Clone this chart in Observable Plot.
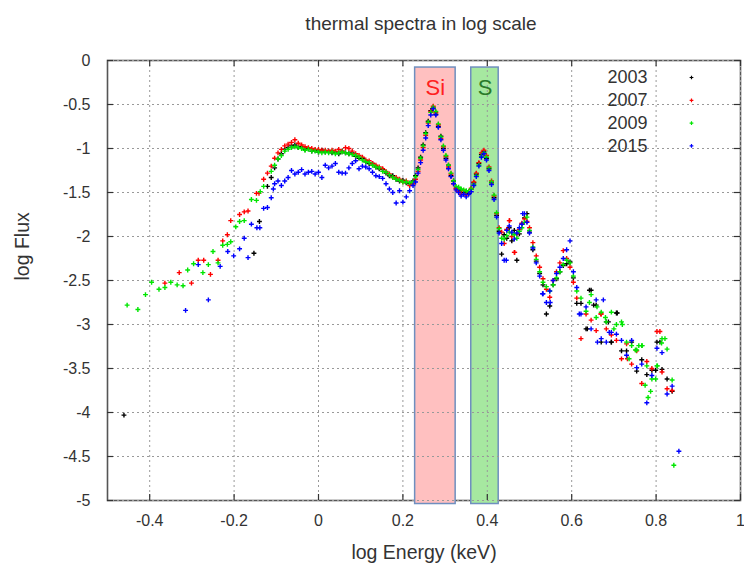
<!DOCTYPE html>
<html><head><meta charset="utf-8">
<script src="https://cdn.jsdelivr.net/npm/d3@7"></script>
<script src="https://cdn.jsdelivr.net/npm/@observablehq/plot@0.6"></script>
<style>
body{margin:0;background:#fff;font-family:"Liberation Sans",Arial,sans-serif;overflow:hidden;}
#title{height:40px;box-sizing:border-box;padding-top:14px;padding-left:98px;width:744px;text-align:center;font-size:19px;line-height:20px;color:#333;}
#chart svg{display:block}
</style></head><body>
<div id="title">thermal spectra in log scale</div>
<div id="chart"></div>
<script>
const years = ["2003", "2007", "2009", "2015"];
const colors = ["#000000", "#ff0000", "#00e600", "#0000ff"];
const xTicks = [-0.4, -0.2, 0, 0.2, 0.4, 0.6, 0.8, 1];
const yTicks = [0, -0.5, -1, -1.5, -2, -2.5, -3, -3.5, -4, -4.5, -5];
const bandNames = ["Si", "S"];
const bandLo = [0.229, 0.362];
const bandHi = [0.325, 0.427];
const bandTop = -0.08;
const bandBottom = -5.04;
const bandFill = ["#ffc0c0", "#a6e8a0"];
const bandText = ["#ff2020", "#2a7a2a"];

// shared energy bins (log keV)
const logE = [
 -0.104,-0.096,-0.088,-0.080,-0.072,-0.064,-0.056,-0.048,-0.040,-0.032,-0.024,-0.016,-0.008,0.000,0.008,0.016,0.024,0.032,0.040,0.048,0.056,0.064,0.072,0.080,0.088,0.096,0.104,0.112,0.120,0.128,0.136,0.144,0.152,0.160,0.168,0.176,0.184,0.192,0.200,0.208,0.216,0.224,
 0.230,0.236,0.242,0.248,0.254,0.260,0.266,0.272,0.278,0.284,0.290,0.296,0.302,0.308,0.314,0.320,0.326,
 0.332,0.338,0.344,0.350,0.356,0.362,0.368,0.374,0.380,0.386,0.392,0.398,0.404,0.410,0.416,0.422,0.428,
 0.434,0.440,0.446,0.452,0.458,0.464,0.470,0.476,0.482,0.488,0.494,0.500,0.508,0.516,0.524,0.532,0.540,0.548,0.556,0.564,0.572,0.580,0.588,0.596,0.604,0.612,
 0.622,0.634,0.646,0.658,0.670,0.682,0.694,0.706,0.718,0.730,0.742,0.754,0.766,0.778,0.790,0.802,0.814,0.826,0.838
];
const flux2003 = [
 -1.22,-1.12,-1.06,-1.01,-0.99,-0.97,-0.96,-0.99,-0.98,-1.01,-1.00,-1.03,-1.02,-1.04,-1.02,-1.04,-1.03,-1.05,-1.04,-1.06,-1.03,-1.05,-1.06,-1.05,-1.09,-1.11,-1.11,-1.15,-1.17,-1.17,-1.21,-1.23,-1.24,-1.28,-1.31,-1.31,-1.35,-1.37,-1.36,-1.39,-1.40,-1.37,
 -1.31,-1.22,-1.10,-0.96,-0.82,-0.69,-0.57,-0.54,-0.61,-0.75,-0.86,-1.00,-1.11,-1.19,-1.31,-1.37,-1.45,
 -1.47,-1.47,-1.50,-1.49,-1.51,-1.46,-1.39,-1.29,-1.17,-1.07,-1.04,-1.11,-1.23,-1.39,-1.56,-1.76,-1.94,
 -2.20,-1.98,-2.02,-1.90,-2.05,-1.93,-2.27,-1.97,-1.86,-1.79,-1.74,-1.95,-2.15,-2.28,-2.42,-2.55,-2.88,-2.79,-2.55,-2.48,-2.40,-2.33,-2.31,-2.29,-2.47,-2.76,
 -2.76,-3.05,-2.61,-2.78,-3.20,-2.97,-3.20,-2.87,-3.30,-3.30,-3.20,-3.53,-3.40,-3.57,-3.52,-3.20,-3.51,-3.62,-3.76
];
const flux2007 = [
 -1.11,-1.05,-1.01,-0.97,-0.95,-0.93,-0.90,-0.94,-0.96,-0.98,-0.99,-1.00,-1.01,-1.01,-1.02,-1.02,-1.03,-1.02,-1.03,-1.01,-1.03,-0.99,-1.00,-1.03,-1.06,-1.08,-1.10,-1.13,-1.14,-1.17,-1.19,-1.21,-1.23,-1.26,-1.29,-1.33,-1.33,-1.35,-1.38,-1.37,-1.42,-1.40,
 -1.35,-1.26,-1.13,-0.99,-0.85,-0.71,-0.58,-0.52,-0.59,-0.73,-0.89,-0.98,-1.09,-1.21,-1.29,-1.40,-1.46,
 -1.49,-1.52,-1.48,-1.53,-1.49,-1.45,-1.38,-1.28,-1.16,-1.05,-1.02,-1.08,-1.21,-1.37,-1.54,-1.74,-1.90,
 -1.95,-2.08,-1.92,-1.82,-2.00,-2.18,-1.97,-1.92,-1.85,-1.80,-1.83,-1.90,-2.07,-2.22,-2.35,-2.48,-2.60,-2.69,-2.50,-2.40,-2.30,-2.16,-2.25,-2.35,-2.52,-2.70,
 -3.16,-2.88,-2.95,-3.07,-2.88,-3.05,-3.12,-3.18,-3.39,-3.22,-3.45,-3.30,-3.67,-3.42,-3.50,-3.08,-3.54,-3.73,-3.75
];
const flux2009 = [
 -1.19,-1.12,-1.08,-1.03,-1.01,-0.99,-0.98,-0.99,-1.00,-1.02,-1.01,-1.03,-1.03,-1.04,-1.05,-1.04,-1.05,-1.04,-1.06,-1.05,-1.04,-1.05,-1.06,-1.07,-1.08,-1.10,-1.13,-1.15,-1.16,-1.19,-1.21,-1.22,-1.26,-1.27,-1.30,-1.33,-1.35,-1.36,-1.38,-1.38,-1.39,-1.38,
 -1.32,-1.24,-1.11,-0.97,-0.83,-0.70,-0.59,-0.53,-0.58,-0.72,-0.87,-0.97,-1.08,-1.19,-1.28,-1.37,-1.43,
 -1.44,-1.46,-1.47,-1.48,-1.49,-1.46,-1.41,-1.31,-1.19,-1.09,-1.05,-1.10,-1.22,-1.38,-1.53,-1.73,-1.91,
 -2.02,-2.03,-1.99,-1.95,-1.96,-1.98,-2.02,-1.94,-1.90,-1.84,-1.78,-1.93,-2.12,-2.26,-2.40,-2.52,-2.57,-2.62,-2.55,-2.47,-2.40,-2.32,-2.27,-2.30,-2.45,-2.62,
 -2.70,-2.85,-2.66,-2.92,-2.86,-2.97,-2.86,-3.00,-2.97,-3.20,-3.24,-3.29,-3.24,-3.47,-3.62,-3.47,-3.16,-3.28,-3.63
];
const flux2015 = [
 -1.40,-1.37,-1.42,-1.37,-1.33,-1.25,-1.29,-1.27,-1.24,-1.29,-1.27,-1.26,-1.29,-1.27,-1.33,-1.19,-1.22,-1.20,-1.17,-1.27,-1.28,-1.28,-1.22,-1.17,-1.14,-1.23,-1.20,-1.21,-1.23,-1.27,-1.31,-1.32,-1.34,-1.40,-1.46,-1.50,-1.62,-1.48,-1.61,-1.55,-1.48,-1.42,
 -1.38,-1.28,-1.16,-1.02,-0.88,-0.74,-0.62,-0.55,-0.62,-0.76,-0.90,-1.02,-1.13,-1.23,-1.32,-1.40,-1.47,
 -1.50,-1.54,-1.52,-1.55,-1.52,-1.49,-1.42,-1.32,-1.20,-1.10,-1.06,-1.13,-1.25,-1.41,-1.58,-1.78,-1.96,
 -2.08,-2.27,-1.93,-1.88,-1.95,-2.03,-1.96,-1.90,-1.86,-1.74,-1.84,-1.96,-2.13,-2.30,-2.45,-2.65,-2.75,-2.62,-2.50,-2.42,-2.35,-2.25,-2.15,-2.05,-2.40,-2.58,
 -2.88,-2.80,-3.05,-2.72,-3.16,-3.20,-3.09,-3.11,-3.18,-3.35,-3.18,-3.49,-3.45,-3.89,-3.58,-3.27,-3.32,-3.79,-3.70
];
// extra (sparse) points: [log E, log Flux]
const extra2003 = [[-0.461,-4.03],[-0.153,-2.19],[-0.140,-1.83],[-0.121,-1.43],[-0.112,-1.33],[0.642,-2.61],[0.652,-2.78],[0.708,-2.87],[0.809,-3.20],[0.687,-2.97],[0.637,-3.05],[0.694,-3.20],[0.799,-3.52]];
const extra2007 = [[-0.364,-2.53],[-0.330,-2.41],[-0.301,-2.53],[-0.285,-2.27],[-0.272,-2.27],[-0.256,-2.43],[-0.238,-2.27],[-0.227,-2.05],[-0.216,-1.98],[-0.208,-1.82],[-0.187,-1.75],[-0.176,-1.72],[-0.167,-1.71],[-0.147,-1.51],[-0.141,-1.51],[-0.130,-1.35],[-0.121,-1.28],[-0.112,-1.20],[0.809,-3.08],[0.669,-2.88],[0.732,-3.39],[0.453,-1.82],[0.465,-2.18]];
const extra2009 = [[-0.4535,-2.78],[-0.428,-2.83],[-0.410,-2.66],[-0.3955,-2.52],[-0.378,-2.60],[-0.364,-2.58],[-0.350,-2.52],[-0.335,-2.55],[-0.321,-2.56],[-0.310,-2.38],[-0.296,-2.31],[-0.274,-2.41],[-0.261,-2.32],[-0.250,-2.17],[-0.238,-2.30],[-0.227,-2.10],[-0.216,-2.09],[-0.208,-2.06],[-0.196,-1.89],[-0.187,-1.83],[-0.176,-1.82],[-0.159,-1.58],[-0.147,-1.59],[-0.138,-1.49],[-0.130,-1.43],[-0.112,-1.26],[0.642,-2.75],[0.660,-2.80],[0.680,-2.92],[0.700,-3.05],[0.720,-3.00],[0.736,-3.39],[0.751,-3.29],[0.759,-3.24],[0.774,-3.69],[0.781,-3.83],[0.787,-3.76],[0.799,-3.62],[0.813,-3.21],[0.821,-3.16],[0.842,-4.60],[0.767,-3.24],[0.803,-3.47]];
const extra2015 = [[-0.315,-2.84],[-0.285,-2.32],[-0.261,-2.72],[-0.233,-2.34],[-0.215,-2.17],[-0.201,-2.22],[-0.187,-2.14],[-0.176,-2.02],[-0.167,-2.24],[-0.159,-1.86],[-0.146,-1.90],[-0.139,-1.90],[-0.130,-1.68],[-0.121,-1.67],[-0.112,-1.56],[-0.107,-1.46],[0.854,-4.44],[0.618,-2.88],[0.675,-2.72],[0.531,-2.65],[0.549,-2.75],[0.689,-3.09],[0.661,-3.20],[0.445,-2.27],[0.484,-1.74]];

const fluxes = [flux2003, flux2007, flux2009, flux2015];
const extras = [extra2003, extra2007, extra2009, extra2015];
const points = years.flatMap((year, k) =>
  logE.map((e, i) => ({year, e, f: fluxes[k][i]}))
    .concat(extras[k].map(([e, f]) => ({year, e, f}))));

const grid = {stroke: "#999", strokeOpacity: 1, strokeDasharray: "2,3", strokeWidth: 1};
const font = "'Liberation Sans', Arial, sans-serif";
const frameW = 744 - 107 - 4, frameH = 523 - 20 - 63, tick = 6;

const chart = Plot.plot({
  width: 744, height: 523,
  marginLeft: 107, marginRight: 4, marginTop: 20, marginBottom: 63,
  style: {fontFamily: font, fontSize: "16px", color: "#333", background: "#fff", overflow: "visible"},
  x: {domain: [-0.5, 1], label: null},
  y: {domain: [-5, 0], label: null},
  color: {type: "ordinal", domain: years, range: colors},
  marks: [
    Plot.frame({stroke: "#555", strokeWidth: 1.6}),
    ...bandNames.map((n, i) => Plot.rect([n], {x1: bandLo[i], x2: bandHi[i], y1: bandBottom, y2: bandTop, fill: bandFill[i], stroke: "#6f8fbf", strokeWidth: 1.5})),
    Plot.gridX(xTicks, grid),
    Plot.gridY(yTicks, grid),
    // inner tick marks on all four sides
    Plot.tickX(xTicks, {x: d => d, insetTop: frameH - tick, stroke: "#333", strokeWidth: 1.2}),
    Plot.tickX(xTicks, {x: d => d, insetBottom: frameH - tick, stroke: "#333", strokeWidth: 1.2}),
    Plot.tickY(yTicks, {y: d => d, insetRight: frameW - tick, stroke: "#333", strokeWidth: 1.2}),
    Plot.tickY(yTicks, {y: d => d, insetLeft: frameW - tick, stroke: "#333", strokeWidth: 1.2}),
    Plot.axisX(xTicks, {anchor: "bottom", tickSize: 0, tickPadding: 14, tickFormat: d => String(d), fontSize: 16, color: "#333", label: null}),
    Plot.axisY(yTicks, {anchor: "left", tickSize: 0, tickPadding: 17, tickFormat: d => String(d), fontSize: 16, color: "#333", label: null}),
    ...bandNames.map((n, i) => Plot.text([n], {text: d => d, x: (bandLo[i] + bandHi[i]) / 2, frameAnchor: "top", lineAnchor: "middle", dy: 27, fill: bandText[i], fontSize: 22})),
    Plot.text(["log Energy (keV)"], {text: d => d, frameAnchor: "bottom", lineAnchor: "middle", dy: 52, fontSize: 19.5, fill: "#333"}),
    Plot.text(["log Flux"], {text: d => d, frameAnchor: "left", dx: -85, rotate: -90, fontSize: 19.5, fill: "#333"}),
    Plot.dot(points, {x: "e", y: "f", stroke: "year", symbol: "plus", r: 1.7, strokeWidth: 1.4}),
    ...years.map((yr, i) => Plot.text([yr], {text: d => d, frameAnchor: "top-right", lineAnchor: "middle", dx: -93, dy: 17 + i * 22.8, textAnchor: "end", fontSize: 18, fill: "#333"})),
    ...years.map((yr, i) => Plot.dot([yr], {frameAnchor: "top-right", dx: -49, dy: 17 + i * 22.8, symbol: "plus", stroke: colors[i], r: 1.3, strokeWidth: 1.2}))
  ]
});
document.getElementById("chart").appendChild(chart);
</script></body></html>
